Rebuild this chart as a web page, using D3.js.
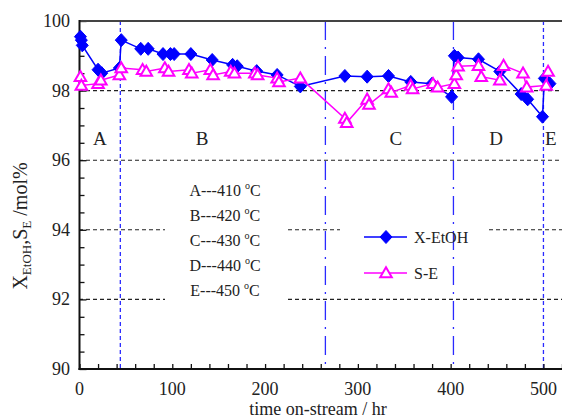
<!DOCTYPE html>
<html><head><meta charset="utf-8">
<script src="https://cdn.jsdelivr.net/npm/d3@7"></script>
<style>body{margin:0;background:#fff}svg{display:block}text{font-family:"Liberation Serif","Times New Roman",serif;fill:#222}</style>
</head><body>
<script>
// ---- data ----
const xTime = [1,2,3,20,24,43,45,66,74,90,98,102,120,143,165,170,191,213,238,286,310,333,357,380,401,404,408,430,453,476,483,499,501,507];
const xEtOH = [99.55,99.45,99.3,98.6,98.5,98.65,99.45,99.2,99.2,99.05,99.05,99.05,99.05,98.88,98.74,98.7,98.56,98.45,98.12,98.42,98.4,98.42,98.25,98.2,97.82,99.0,98.95,98.9,98.55,97.9,97.75,97.25,98.35,98.2];
const sTime = [1,2,20,23,43,45,68,72,92,96,118,121,141,144,163,167,189,192,213,215,238,286,288,310,312,333,336,357,359,381,386,404,406,408,430,433,453,457,478,482,503,505];
const sE = [98.4,98.15,98.2,98.3,98.45,98.65,98.6,98.55,98.65,98.55,98.6,98.5,98.6,98.45,98.55,98.5,98.5,98.45,98.36,98.25,98.36,97.2,97.08,97.75,97.6,98.05,97.95,98.15,98.05,98.2,98.1,98.2,98.45,98.7,98.72,98.4,98.3,98.72,98.5,98.1,98.15,98.55];
const xTicks = [0,100,200,300,400,500];
const yTicks = [90,92,94,96,98,100];
const regionLines = [44,265,403,500];
const regionLabels = ["A","B","C","D","E"];
const regionLabelPos = [22,132,341,449,508];
const tempLegend = ["A---410","B---420","C---430","D---440","E---450"];
const seriesNames = ["X-EtOH","S-E"];

const W=562,H=420;
const svg=d3.select("body").append("svg").attr("width",W).attr("height",H);
const x=d3.scaleLinear().domain([0,520]).range([79.5,562]);
const y=d3.scaleLinear().domain([90,100]).range([369,21]);

// gridlines (dashed)
const grid=svg.append("g").attr("stroke","#222").attr("stroke-width",1.1).attr("stroke-dasharray","4,3");
[[98,[[79,562]]],[96,[[79,562]]],[94,[[79,165],[288,340],[489,562]]],[92,[[79,165],[288,562]]]].forEach(([v,segs])=>{
  segs.forEach(s=>grid.append("line").attr("x1",s[0]).attr("x2",s[1]).attr("y1",y(v)).attr("y2",y(v)));
});

// region vertical lines
regionLines.forEach((t,i)=>{
  const dotted=(i===0||i===3);
  svg.append("line").attr("x1",x(t)).attr("x2",x(t)).attr("y1",y(100)).attr("y2",y(90))
    .attr("stroke","#2a2aff").attr("stroke-width",1.3)
    .attr("stroke-dasharray",dotted?"4,3":"19,7,2,7");
});

// region letters
regionLabels.forEach((l,i)=>{
  svg.append("text").attr("x",x(regionLabelPos[i])).attr("y",145).attr("text-anchor","middle")
    .attr("font-size",19).text(l);
});

// temperature legend
tempLegend.forEach((s,i)=>{
  const t=svg.append("text").attr("x",225).attr("y",196+i*25).attr("text-anchor","middle").attr("font-size",16);
  t.append("tspan").text(s+" ");
  t.append("tspan").attr("font-size",10).attr("dy",-7).text("o");
  t.append("tspan").attr("dy",7).text("C");
});

// axes
const xAxis=svg.append("g").attr("transform",`translate(0,${y(90)})`);
xAxis.call(d3.axisBottom(x).tickValues(d3.range(0,521,20)).tickSize(0).tickFormat(""));
xAxis.select(".domain").remove();
xAxis.selectAll(".tick").append("line").attr("y1",0).attr("y2",-5).attr("stroke","#111").attr("stroke-width",1.3);
xTicks.forEach(v=>svg.append("text").attr("x",x(v)).attr("y",395).attr("text-anchor","middle").attr("font-size",18).text(v));

const yAxis=svg.append("g").attr("transform",`translate(${x(0)},0)`);
yAxis.call(d3.axisLeft(y).tickValues(d3.range(90,100.01,0.5)).tickSize(0).tickFormat(""));
yAxis.select(".domain").remove();
yAxis.selectAll(".tick").append("line").attr("x1",0).attr("x2",d=>Math.abs(d%2)<0.01?7:5).attr("stroke","#111").attr("stroke-width",1.3);
yTicks.forEach(v=>svg.append("text").attr("x",70).attr("y",y(v)+6).attr("text-anchor","end").attr("font-size",18).text(v));

svg.append("line").attr("x1",x(0)).attr("x2",W).attr("y1",y(100)).attr("y2",y(100)).attr("stroke","#444").attr("stroke-width",2);
svg.append("line").attr("x1",x(0)).attr("x2",x(0)).attr("y1",y(100)-1).attr("y2",y(90)+1).attr("stroke","#111").attr("stroke-width",2);
svg.append("line").attr("x1",x(0)-1).attr("x2",W).attr("y1",y(90)).attr("y2",y(90)).attr("stroke","#111").attr("stroke-width",2);

// series
const blue="#0000ff", pink="#ff00ff";
const lineGen=d3.line().x(d=>x(d[0])).y(d=>y(d[1]));
const sData=sTime.map((t,i)=>[t,sE[i]]);
const xData=xTime.map((t,i)=>[t,xEtOH[i]]);
const diamondPath="M0,-6.5L6,0L0,6.5L-6,0Z";
const tri=d3.symbol().type(d3.symbolTriangle).size(58);

svg.append("path").datum(xData).attr("d",lineGen).attr("fill","none").attr("stroke",blue).attr("stroke-width",1.5);
svg.append("g").selectAll("path").data(xData).join("path").attr("d",diamondPath)
  .attr("transform",d=>`translate(${x(d[0])},${y(d[1])})`).attr("fill",blue).attr("stroke",blue).attr("stroke-width",1);

svg.append("path").datum(sData).attr("d",lineGen).attr("fill","none").attr("stroke",pink).attr("stroke-width",1.5);
svg.append("g").selectAll("path").data(sData).join("path").attr("d",tri)
  .attr("transform",d=>`translate(${x(d[0])},${y(d[1])+1})`).attr("fill","#fff").attr("stroke",pink).attr("stroke-width",2);

// series legend
const lg=svg.append("g");
[[blue,237],[pink,273]].forEach(([c,yy],i)=>{
  lg.append("line").attr("x1",364).attr("x2",407).attr("y1",yy).attr("y2",yy).attr("stroke",c).attr("stroke-width",1.5);
  lg.append("path").attr("d",i===0?diamondPath:tri).attr("transform",`translate(386,${yy+(i?1:0)})`)
    .attr("fill",i===0?c:"#fff").attr("stroke",c).attr("stroke-width",i?2:1);
  lg.append("text").attr("x",414).attr("y",yy+6).attr("font-size",16).text(seriesNames[i]);
});

// axis titles
svg.append("text").attr("x",318).attr("y",415).attr("text-anchor","middle").attr("font-size",18).text("time on-stream / hr");
const yt=svg.append("text").attr("transform","translate(27,226) rotate(-90)").attr("text-anchor","middle").attr("font-size",20);
yt.append("tspan").text("X");
yt.append("tspan").attr("font-size",13).attr("dy",4).text("EtOH");
yt.append("tspan").attr("dy",-4).text(",S");
yt.append("tspan").attr("font-size",13).attr("dy",4).text("E");
yt.append("tspan").attr("dy",-4).text(" /mol%");
</script>
</body></html>
